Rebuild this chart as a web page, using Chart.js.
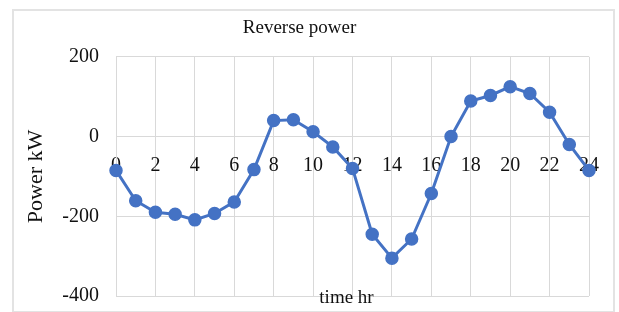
<!DOCTYPE html>
<html>
<head>
<meta charset="utf-8">
<script src="https://cdn.jsdelivr.net/npm/chart.js@4/dist/chart.umd.min.js"></script>
<style>
  html, body { margin: 0; padding: 0; background: #fff; }
  #wrap { position: relative; width: 619px; height: 312px; }
  #frame { position: absolute; left: 12px; top: 9px; width: 599px; height: 300px; border: 2px solid #e3e3e3; }
  canvas { position: absolute; left: 0; top: 0; }
</style>
</head>
<body>
<div id="wrap">
  <div id="frame"></div>
  <canvas id="chart" width="619" height="312"></canvas>
</div>
<script>
// hours of the day and reverse power in kW
const hours = [0, 1, 2, 3, 4, 5, 6, 7, 8, 9, 10, 11, 12, 13, 14, 15, 16, 17, 18, 19, 20, 21, 22, 23, 24];
const power = [-85, -161, -190, -195, -209, -193, -164, -83, 40, 42, 12, -26, -80, -245, -305, -257, -143, 0, 89, 103, 125, 108, 61, -20, -85];
const xRange = [0, 24];
const yRange = [-400, 200];

const serif = "'Liberation Serif', 'Times New Roman', serif";
const blue = "#4472c4";
const gridGray = "#d9d9d9";
const ink = "#111";

// "time hr" sits on the bottom edge of the plot, like in excel
const axisLabel = {
  id: "axisLabel",
  afterDraw(chart) {
    const ctx = chart.ctx;
    const area = chart.chartArea;
    ctx.save();
    ctx.font = "19px " + serif;
    ctx.fillStyle = ink;
    ctx.textAlign = "center";
    ctx.textBaseline = "middle";
    ctx.fillText("time hr", (area.left + area.right) / 2 - 6, area.bottom + 2);
    ctx.restore();
  }
};

const pts = hours.map((h, i) => ({ x: h, y: power[i] }));

const chart = new Chart(document.getElementById("chart").getContext("2d"), {
  type: "line",
  data: {
    datasets: [{
      label: "Reverse power",
      data: pts,
      borderColor: blue,
      backgroundColor: blue,
      borderWidth: 3,
      pointRadius: 6,
      pointBackgroundColor: blue,
      pointBorderColor: blue,
      pointBorderWidth: 1.5,
      tension: 0,
      clip: false
    }]
  },
  options: {
    responsive: false,
    animation: false,
    layout: { padding: { left: 10, right: 30, top: 0, bottom: 16 } },
    plugins: {
      legend: { display: false },
      tooltip: { enabled: false },
      title: {
        display: true,
        text: "Reverse power",
        color: ink,
        font: { family: serif, size: 19, weight: "normal" },
        padding: { top: 17, bottom: 17 }
      }
    },
    scales: {
      x: {
        type: "linear",
        min: xRange[0],
        max: xRange[1],
        position: { y: 0 },
        grid: { color: gridGray, lineWidth: 1, drawTicks: false },
        border: { display: false },
        ticks: {
          stepSize: 2,
          autoSkip: false,
          maxRotation: 0,
          padding: 17,
          color: ink,
          font: { family: serif, size: 20 }
        },
        afterFit(s) { s.height = 0; s.paddingLeft = 0; s.paddingRight = 0; }
      },
      y: {
        min: yRange[0],
        max: yRange[1],
        grid: { color: gridGray, lineWidth: 1, drawTicks: false },
        border: { color: gridGray },
        ticks: {
          stepSize: 200,
          padding: 17,
          color: ink,
          font: { family: serif, size: 20 }
        },
        title: {
          display: true,
          text: "Power kW",
          color: ink,
          font: { family: serif, size: 22 },
          padding: { top: 13, bottom: 0 }
        },
        afterFit(s) { s.width = 106; s.paddingTop = 0; s.paddingBottom = 0; }
      }
    }
  },
  plugins: [axisLabel]
});
</script>
</body>
</html>
